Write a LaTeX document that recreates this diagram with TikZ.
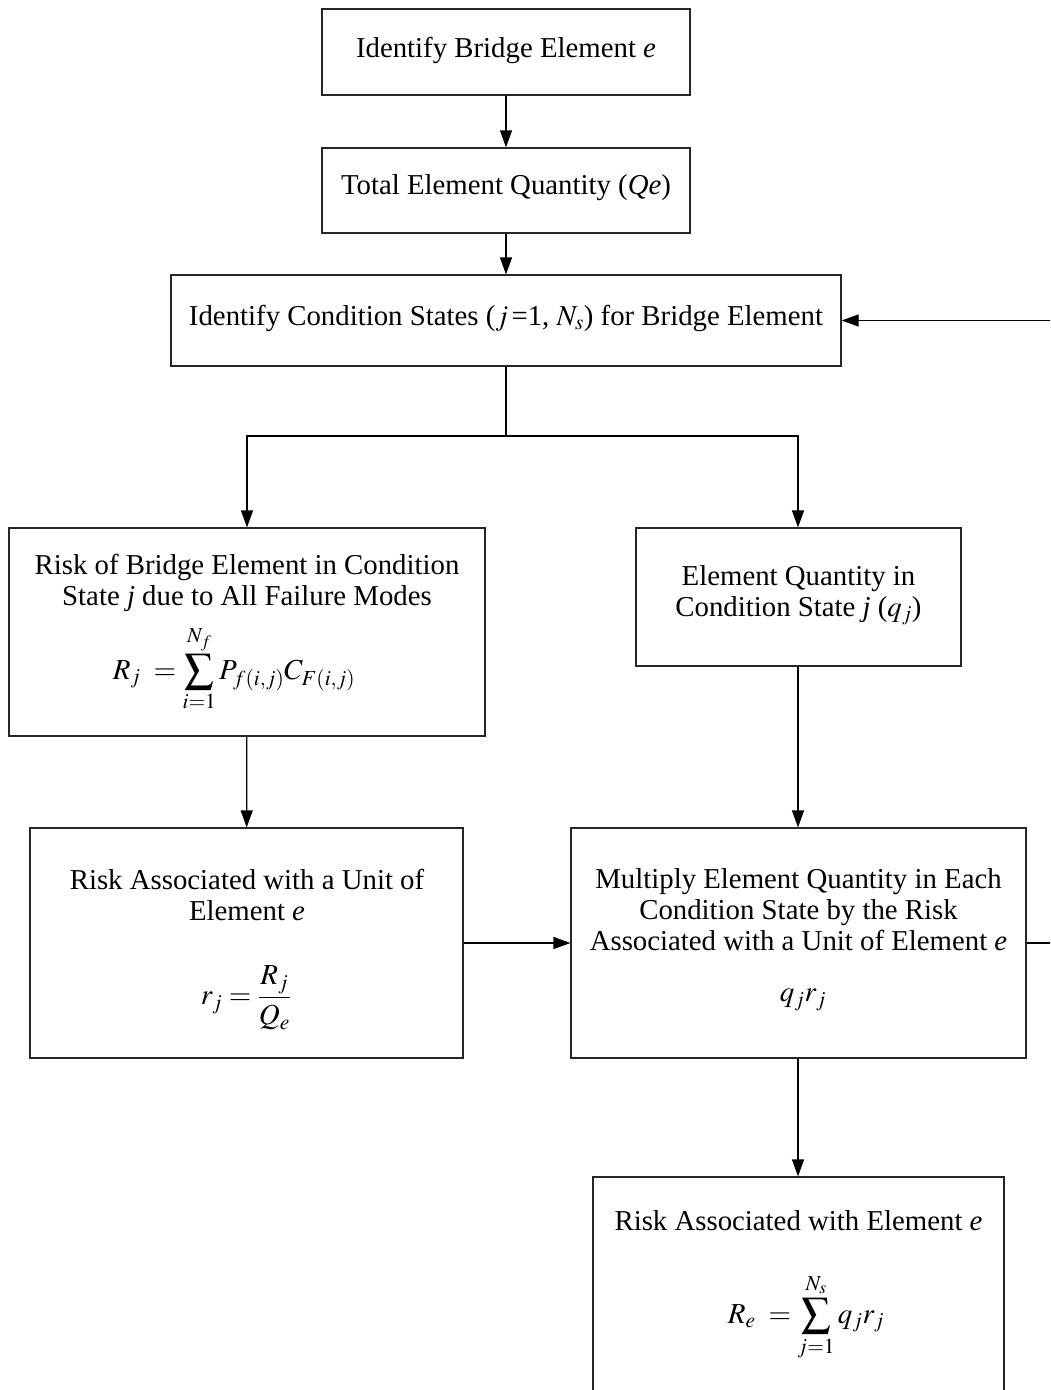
\documentclass[tikz,border=0pt]{standalone}
\usepackage{mathptmx}
\usepackage{fontspec}
\setmainfont{Liberation Serif}
\usetikzlibrary{arrows.meta}
% limits set a little apart from the summation sign
\newcommand{\lowlim}[1]{\rule{0pt}{10pt}#1}
\newcommand{\uplim}[1]{\rule[-5pt]{0pt}{0pt}#1}
\begin{document}
\begin{tikzpicture}[x=1pt,y=-1pt,
  box/.style={draw=black!85,line width=1.2pt,inner sep=0pt},
  txt/.style={align=center,inner sep=0pt,font=\fontsize{28.8}{31}\selectfont},
  eqn/.style={inner sep=0pt,font=\fontsize{29}{31}\selectfont},
  link/.style={line width=1.2pt,-{Triangle[length=17pt,width=12pt]}},
  wire/.style={line width=1.2pt}]
\clip (0,0) rectangle (1050,1390);
\fill[white] (0,0) rectangle (1050,1390);

% top chain
\node[box,minimum width=368pt,minimum height=86pt] (ident) at (506,52) {};
\node[txt] (identt) at (506,50) {Identify Bridge Element \textit{e}};
\node[box,minimum width=368pt,minimum height=85pt] (total) at (506,190.5) {};
\node[txt] (totalt) at (506,188) {Total Element Quantity (\textit{Qe})};
\node[box,minimum width=670pt,minimum height=91pt] (states) at (506,320.5) {};
\node[txt] (statest) at (506,318) {Identify Condition States ($j\,$=1, $N_s$) for Bridge Element};

% middle row
\node[box,minimum width=476pt,minimum height=208pt] (riskj) at (247,632) {};
\node[txt] (riskjt) at (247,583) {Risk of Bridge Element in Condition\\State \textit{j} due to All Failure Modes};
\node[eqn] (riskjf) at (234,669) {$\displaystyle R_j\; = \sum_{\lowlim{i=1}}^{\uplim{N_f}} P_{f(i,j)} C_{F(i,j)}$};
\node[box,minimum width=325pt,minimum height=138pt] (qty) at (798.5,597) {};
\node[txt] (qtyt) at (798.5,595) {Element Quantity in\\Condition State \textit{j} ($q_j$)};

% lower row
\node[box,minimum width=433pt,minimum height=230pt] (unit) at (246.5,943) {};
\node[txt] (unitt) at (247,895) {Risk Associated with a Unit of\\Element \textit{e}};
\node[eqn] (unitf) at (246,998) {$\displaystyle r_j = \frac{R_j}{Q_e}$};
\node[box,minimum width=455pt,minimum height=230pt] (mult) at (798.5,943) {};
\node[txt] (multt) at (798.5,910) {Multiply Element Quantity in Each\\Condition State by the Risk\\Associated with a Unit of Element \textit{e}};
\node[eqn] (multf) at (803,1000) {$q_j r_j$};

% bottom box (runs past the lower edge)
\node[box,minimum width=411pt,minimum height=260pt] (total2) at (798.5,1307) {};
\node[txt] (total2t) at (798.5,1221) {Risk Associated with Element \textit{e}};
\node[eqn] (total2f) at (806,1317) {$\displaystyle R_e\; = \sum_{\lowlim{j=1}}^{\uplim{N_s}} q_j r_j$};

% connectors
\draw[link] (ident) -- (total);
\draw[link] (total) -- (states);
\coordinate (split) at (506,436);
\coordinate (splitl) at (247,436);
\coordinate (splitr) at (798,436);
\draw[wire] (states.south) -- (split);
\draw[link] (split) -- (splitl) -- (riskj.north);
\draw[link] (split) -- (splitr) -- (riskj.north -| splitr);
\draw[link] (riskj) -- (unit);
\draw[link] (qty.south -| splitr) -- (mult.north -| splitr);
\draw[link] (unit) -- (mult);
\draw[link] (mult.south -| splitr) -- (total2.north -| splitr);
\coordinate (loopout) at (1060,943);
\coordinate (loopin) at (1060,320.5);
\draw[wire] (mult.east) -- (loopout);
\draw[link] (loopin) -- (states.east);
\end{tikzpicture}
\end{document}
